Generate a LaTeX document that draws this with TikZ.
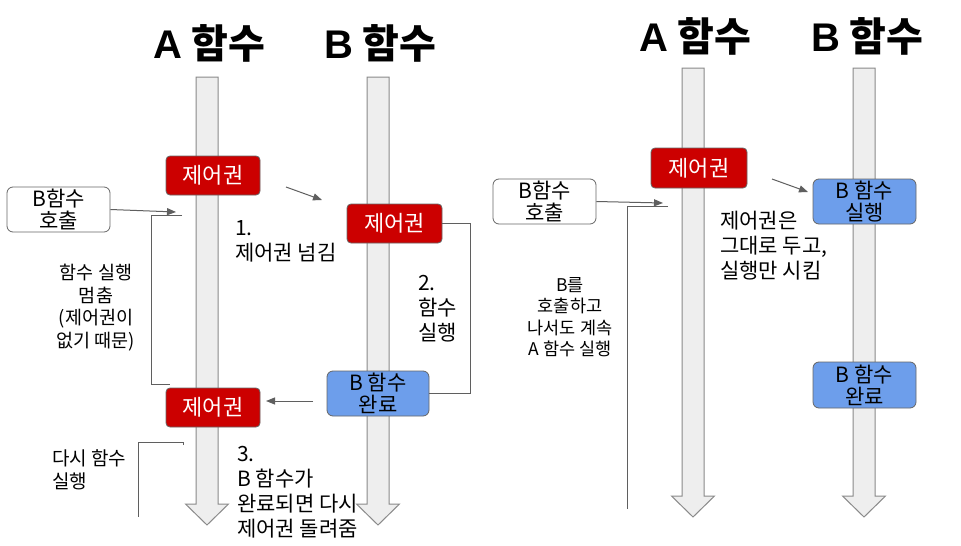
\documentclass[tikz,border=0pt]{standalone}
\usepackage{fontspec}
\setmainfont{Noto Sans CJK KR}
\newfontfamily\lat{Liberation Sans}
\usetikzlibrary{arrows.meta}
\definecolor{ctrlred}{HTML}{CC0000}
\definecolor{runblue}{HTML}{6D9EEB}
\definecolor{boxline}{HTML}{666666}
\definecolor{flowfill}{HTML}{EEEEEE}
\definecolor{flowline}{HTML}{8A8A8A}
\definecolor{connline}{HTML}{5F5F5F}
\newcommand\flowarrow[4]{\draw[flow] (#2-11,#3) -- (#2+11,#3) -- (#2+11,#4) -- (#2+21.5,#4) -- (#2,#4+21) -- (#2-21.5,#4) -- (#2-11,#4) -- cycle;}
\begin{document}
\begin{tikzpicture}[x=1pt,y=-1pt,
  flow/.style={fill=flowfill,draw=flowline,line width=1pt},
  title/.style={font=\fontsize{40}{44}\selectfont\bfseries,inner sep=0pt},
  ctrlbox/.style={rounded corners=4pt,fill=ctrlred,draw=boxline,line width=0.8pt,text=white,font=\fontsize{22}{24}\selectfont,minimum width=94pt,minimum height=39pt,inner sep=0pt},
  bluebox/.style={rounded corners=6pt,fill=runblue,draw=boxline,line width=0.8pt,align=center,font=\fontsize{21}{22}\selectfont,minimum width=102pt,minimum height=45pt,inner sep=0pt},
  callbox/.style={rounded corners=6pt,fill=white,draw=boxline,line width=0.8pt,align=center,font=\fontsize{21}{22}\selectfont,minimum width=103pt,minimum height=45pt,inner sep=0pt},
  conn/.style={draw=connline,line width=1pt},
  arr/.style={conn,-{Triangle[length=9pt,width=7pt]}},
  note/.style={font=\fontsize{21}{25}\selectfont,inner sep=0pt,align=left,anchor=north west},
  smallnote/.style={font=\fontsize{18.5}{22.5}\selectfont,inner sep=0pt,align=center,anchor=north}]
\useasboundingbox (0,0) rectangle (961,546);
\fill[white] (0,0) rectangle (961,546);
% titles
\node[title] (tA1) at (209,43) {{\lat A} 함수};
\node[title] (tB1) at (380,43) {{\lat B} 함수};
\node[title] (tA2) at (695,36) {{\lat A} 함수};
\node[title] (tB2) at (867,36) {{\lat B} 함수};
% flow arrows
\flowarrow{fa1}{207}{77}{504}
\flowarrow{fb1}{378}{77}{504}
\flowarrow{fa2}{693}{68}{496}
\flowarrow{fb2}{864}{68}{496}
% ---------- left panel ----------
\node[ctrlbox] (cA1) at (213,175.5) {제어권};
\node[ctrlbox,minimum width=95pt] (cB1) at (394.5,223.5) {제어권};
\node[ctrlbox] (cA2) at (213,407.5) {제어권};
\node[callbox] (callL) at (58.5,209.5) {B함수\\호출};
\node[bluebox] (doneL) at (378,393.5) {B 함수\\완료};
\coordinate (callLend) at (176,212);
\draw[arr] (callL.east) -- (callLend);
\coordinate (p1s) at (286,187);
\coordinate (p1e) at (322,200);
\draw[arr] (p1s) -- (p1e);
\draw[conn] (cB1.east) -- (470,223.5) |- (doneL.east);
\coordinate (retS) at (313,401);
\coordinate (retE) at (266,401);
\draw[arr] (retS) -- (retE);
\coordinate (stopA) at (182,215);
\coordinate (stopB) at (170,384);
\draw[conn] (stopA) -- (151,215) -- (151,384) -- (stopB);
\coordinate (againA) at (183,445);
\coordinate (againB) at (138,517);
\draw[conn] (againA) -- (183,442) -- (138,442) -- (againB);
\node[note] (n1) at (235,220) {1.\\제어권 넘김};
\node[note] (n2) at (418,275) {2.\\함수\\실행};
\node[smallnote] (nstop) at (96,264) {함수 실행\\멈춤\\(제어권이\\없기 때문)};
\node[note,font=\fontsize{19}{23}\selectfont] (nagain) at (52,449) {다시 함수\\실행};
\node[note] (n3) at (237,446) {3.\\B 함수가\\완료되면 다시\\제어권 돌려줌};
% ---------- right panel ----------
\node[ctrlbox,minimum width=96pt,minimum height=40pt] (cA3) at (699,168) {제어권};
\node[callbox] (callR) at (544.5,201.5) {B함수\\호출};
\node[bluebox,minimum width=103pt] (runR) at (864.5,201.5) {B 함수\\실행};
\node[bluebox,minimum width=103pt,minimum height=46pt] (doneR) at (864.5,385) {B 함수\\완료};
\coordinate (callRend) at (663,203);
\draw[arr] (callR.east) -- (callRend);
\coordinate (p2s) at (772,179);
\coordinate (p2e) at (808,192);
\draw[arr] (p2s) -- (p2e);
\coordinate (contA) at (668,206);
\coordinate (contB) at (627,509);
\draw[conn] (contA) -- (627,206) -- (contB);
\node[note] (nkeep) at (720,211) {제어권은\\그대로 두고,\\실행만 시킴};
\node[smallnote,font=\fontsize{17.5}{21.5}\selectfont] (ncont) at (570,277) {B를\\호출하고\\나서도 계속\\A 함수 실행};
\end{tikzpicture}
\end{document}
